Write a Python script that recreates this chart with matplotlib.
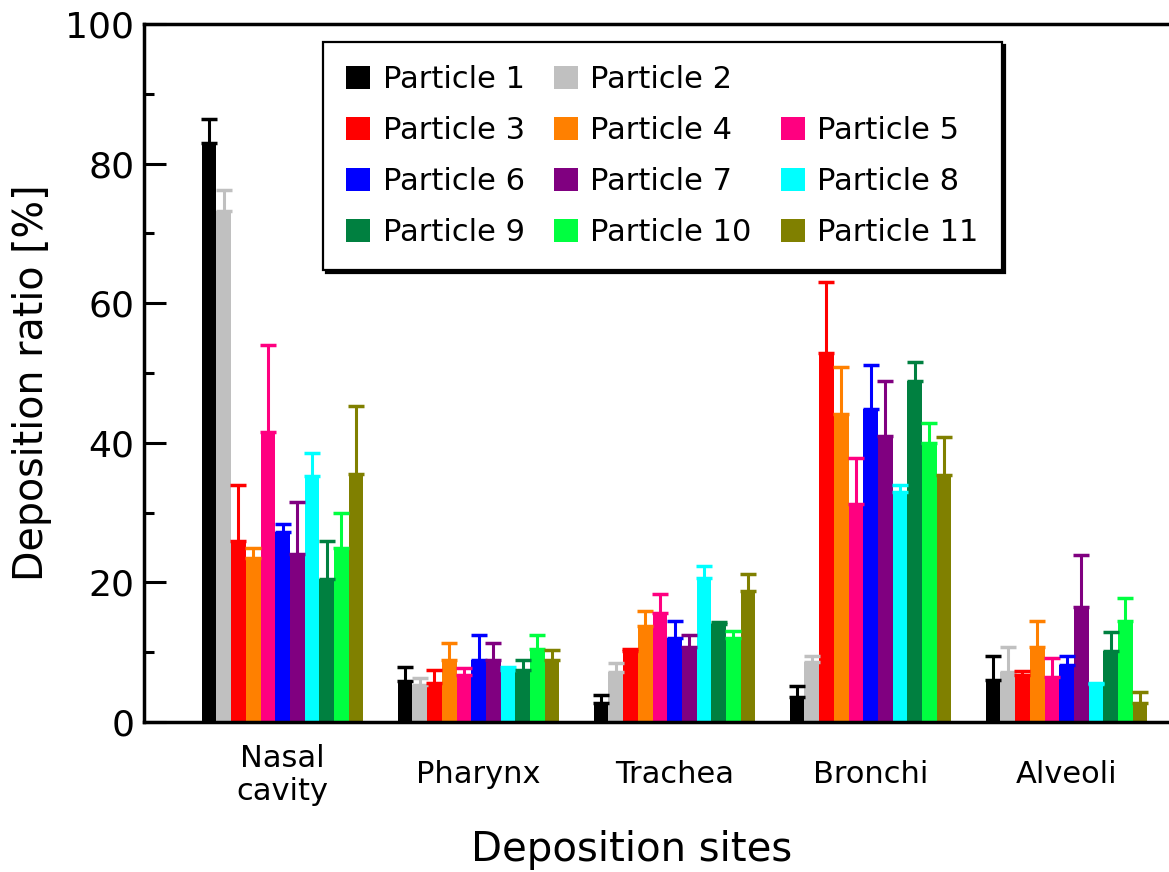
import numpy as np
import matplotlib
matplotlib.use("Agg")
import matplotlib.pyplot as plt
from matplotlib.patches import Rectangle

# deposition sites (x categories)
sites = ["Nasal\ncavity", "Pharynx", "Trachea", "Bronchi", "Alveoli"]
particles = [f"Particle {i}" for i in range(1, 12)]
colors = ["#000000", "#c0c0c0", "#ff0000", "#ff8000", "#ff0080", "#0000ff",
          "#800080", "#00ffff", "#008040", "#00ff40", "#808000"]

# mean deposition ratio [%] per site, particles 1..11
nasal = [83.0, 73.2, 26.0, 23.5, 41.5, 27.2, 24.0, 35.3, 20.5, 25.0, 35.5]
pharynx = [5.9, 5.3, 5.6, 8.9, 6.7, 8.9, 8.9, 7.5, 7.4, 10.4, 8.9]
trachea = [2.7, 7.2, 10.2, 13.8, 15.6, 12.1, 10.8, 20.6, 14.1, 12.0, 18.7]
bronchi = [3.6, 8.6, 52.8, 44.1, 31.2, 44.9, 41.0, 32.9, 48.9, 39.9, 35.4]
alveoli = [6.0, 7.1, 6.7, 10.8, 6.5, 8.1, 16.5, 5.4, 10.2, 14.5, 2.7]

# upper error (std) per site
nasal_err = [3.4, 3.0, 8.0, 1.5, 12.5, 1.2, 7.5, 3.2, 5.5, 5.0, 9.8]
pharynx_err = [2.0, 1.0, 1.8, 2.4, 1.0, 3.6, 2.4, 0.4, 1.5, 2.1, 1.4]
trachea_err = [1.2, 1.2, 0.2, 2.1, 2.8, 2.3, 1.7, 1.7, 0.2, 1.1, 2.5]
bronchi_err = [1.5, 0.9, 10.3, 6.8, 6.6, 6.2, 7.8, 1.1, 2.7, 3.0, 5.5]
alveoli_err = [3.4, 3.6, 0.6, 3.6, 2.6, 1.3, 7.4, 0.2, 2.7, 3.2, 1.6]

vals = np.array([nasal, pharynx, trachea, bronchi, alveoli])       # (site, particle)
errs = np.array([nasal_err, pharynx_err, trachea_err, bronchi_err, alveoli_err])

W, H = 1169, 872
fig = plt.figure(figsize=(W / 100, H / 100), dpi=100)
# axes run past the right edge like in the original (cropped)
ax_w = (1190 - 144) / W
ax = fig.add_axes([144 / W, (H - 722) / H, ax_w, 698 / H])

x = np.arange(len(sites))
bw = 0.075
bars = []
for i in range(len(particles)):
    b = ax.bar(x + (i - 5) * bw, vals[:, i], bw, color=colors[i], label=particles[i],
               yerr=[np.zeros(len(sites)), errs[:, i]], capsize=6,
               error_kw=dict(ecolor=colors[i], elinewidth=2.2, capthick=2.5))
    bars.append(b)

ax.set_xlim(-0.707, -0.707 + (1190 - 144) / 196)
ax.set_ylim(0, 100)
ax.set_yticks(np.arange(0, 101, 20))
ax.set_yticks(np.arange(10, 100, 20), minor=True)
ax.tick_params(axis="y", which="major", direction="in", length=16, width=2.2,
               labelsize=26, pad=7)
ax.tick_params(axis="y", which="minor", direction="in", length=7, width=2.2)
ax.set_xticks(x, sites)
ax.tick_params(axis="x", length=0, labelsize=22, pad=38)
for lab in ax.get_xticklabels():
    lab.set_verticalalignment("center")
    lab.set_linespacing(1.15)
for s in ax.spines.values():
    s.set_linewidth(2.5)

ax.set_xlabel("Deposition sites", fontsize=29, va="center")
ax.xaxis.set_label_coords((632 - 144) / (ax_w * W), -(850 - 722) / 698)
ax.set_ylabel("Deposition ratio [%]", fontsize=28.5, va="center")
ax.yaxis.set_label_coords(-(144 - 32) / (ax_w * W), (722 - 383) / 698)

# legend: rows filled left to right, blank slot after Particle 2
blank = Rectangle((0, 0), 1, 1, visible=False)
h = [b.patches[0] for b in bars]
order = [h[0], h[2], h[5], h[8], h[1], h[3], h[6], h[9], blank, h[4], h[7], h[10]]
labs = [particles[0], particles[2], particles[5], particles[8],
        particles[1], particles[3], particles[6], particles[9],
        "", particles[4], particles[7], particles[10]]
leg = ax.legend(order, labs, ncol=3, loc="upper left",
                bbox_to_anchor=(323 / W, 1 - 42 / H), bbox_transform=fig.transFigure,
                borderaxespad=0, fontsize=22, fancybox=False, edgecolor="black",
                framealpha=1, handlelength=0.78, handleheight=0.78,
                handletextpad=0.42, columnspacing=0.95, borderpad=0.75,
                labelspacing=0.72,
                shadow={"facecolor": "black", "edgecolor": "black", "alpha": 1})
leg.get_frame().set_linewidth(1.6)

fig.savefig("out.png", dpi=100)
